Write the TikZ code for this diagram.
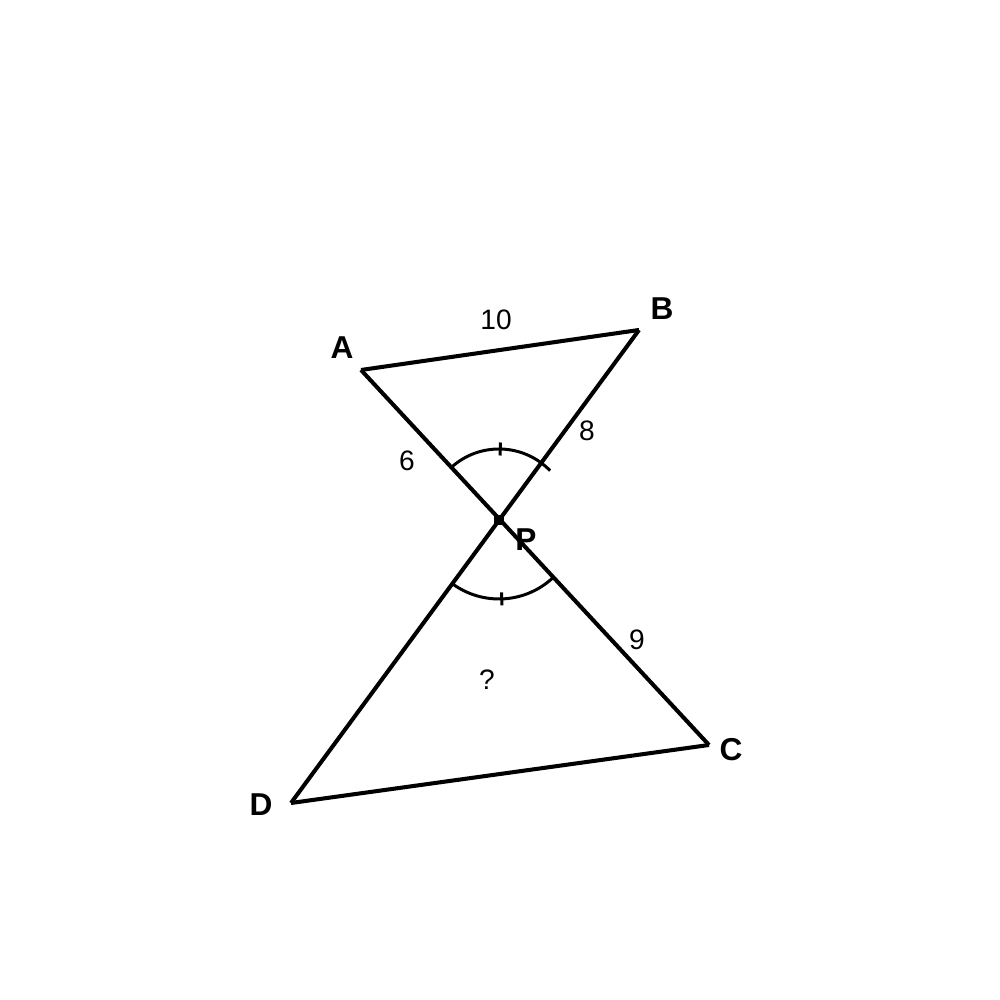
\documentclass[tikz,border=0pt]{standalone}
\usepackage{fontspec}
\setmainfont{Liberation Sans}
\usetikzlibrary{calc}
\newcommand{\lblfont}{\fontsize{8}{10}\selectfont}
\newcommand{\vtxfont}{\fontsize{9}{11}\selectfont\bfseries}
\tikzset{
  side/.style={line width=1.15pt},
  marc/.style={line width=0.85pt},
  vlabel/.style={font=\vtxfont, inner sep=0pt},
  nlabel/.style={font=\lblfont, inner sep=0pt},
}
\begin{document}
\begin{tikzpicture}
\useasboundingbox (0,0) rectangle (10,10);
\coordinate (A) at (3.61, 6.30);
\coordinate (B) at (6.39, 6.70);
\coordinate (P) at (4.99, 4.80);
\coordinate (C) at (7.09, 2.55);
\coordinate (D) at (2.91, 1.97);
\draw[side] (A) -- (B);
\draw[side] (B) -- (D);
\draw[side] (A) -- (C);
\draw[side] (D) -- (C);
% angle marks at P
\draw[marc] ($(P)+(44:0.71)$) arc (44:132.6:0.71);
\draw[marc] ($(P)+(233.7:0.79)$) arc (233.7:313:0.79);
\draw[marc] ($(P)+(89:0.645)$) -- ($(P)+(89:0.775)$);
\draw[marc] ($(P)+(272:0.725)$) -- ($(P)+(272:0.855)$);
\fill (P) +(-0.05,-0.05) rectangle +(0.05,0.05);
\node[vlabel] (la) at (3.42, 6.52) {A};
\node[vlabel] (lb) at (6.62, 6.91) {B};
\node[vlabel] (lp) at (5.26, 4.60) {P};
\node[vlabel] (lc) at (7.31, 2.50) {C};
\node[vlabel] (ld) at (2.61, 1.95) {D};
\node[nlabel] (sab) at (4.96, 6.80) {10};
\node[nlabel] (sap) at (4.07, 5.39) {6};
\node[nlabel] (sbp) at (5.87, 5.69) {8};
\node[nlabel] (scp) at (6.37, 3.60) {9};
\node[nlabel] (sdp) at (4.87, 3.20) {?};
\end{tikzpicture}
\end{document}
